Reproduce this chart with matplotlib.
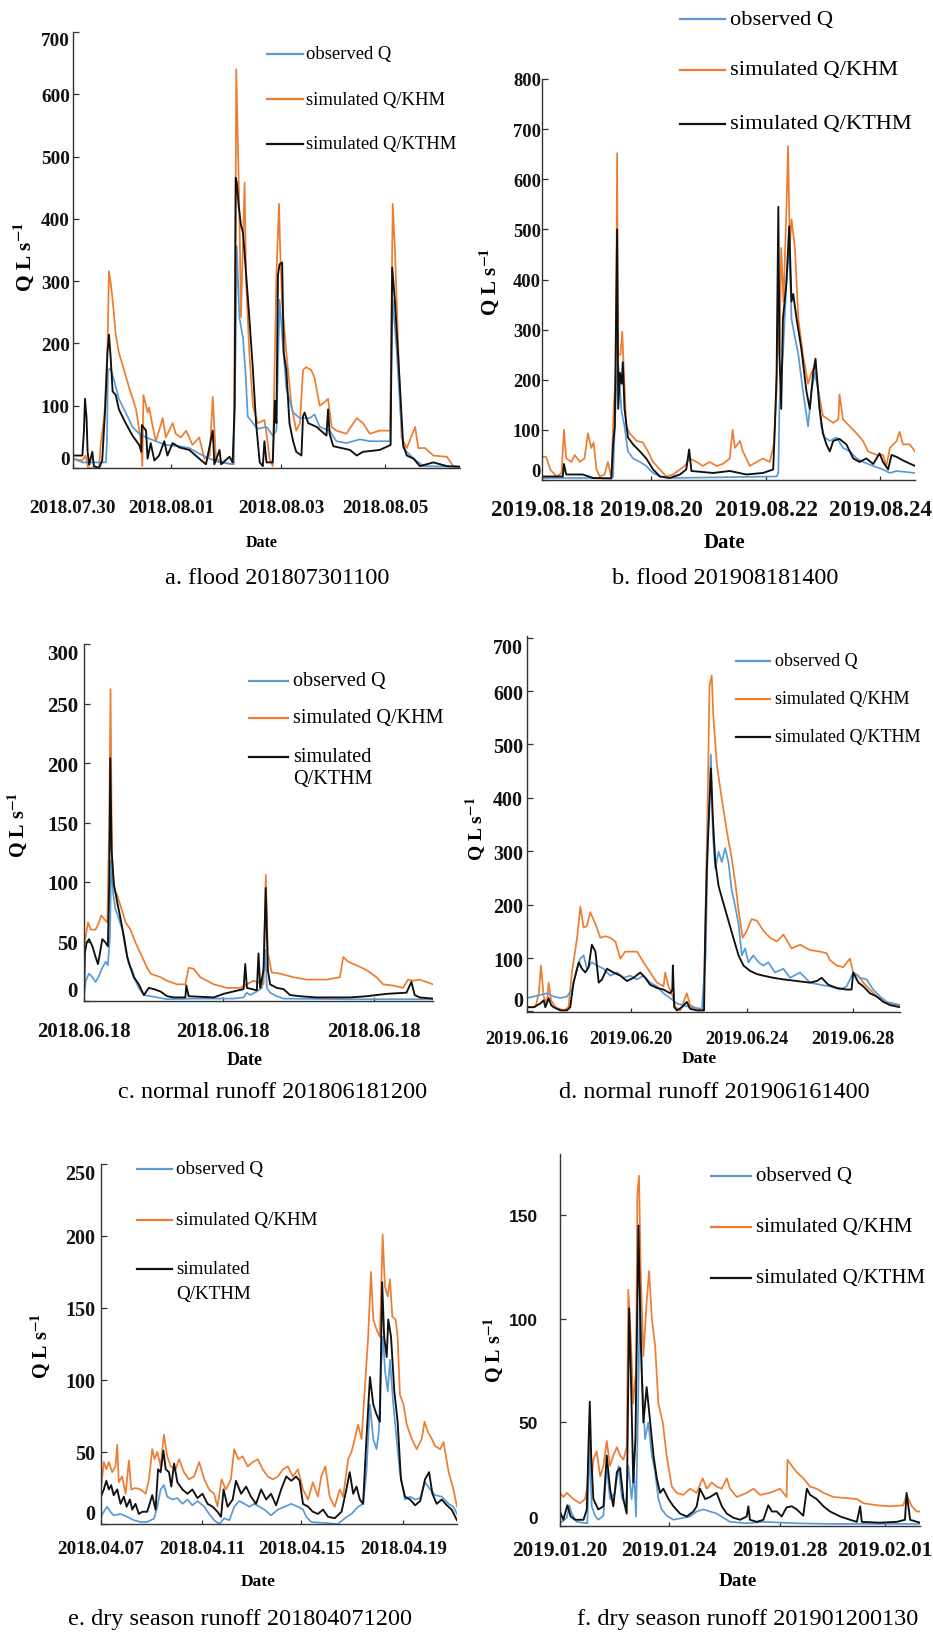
import matplotlib
matplotlib.use("Agg")
import matplotlib.pyplot as plt
from matplotlib.lines import Line2D

plt.rcParams['font.family'] = ['Liberation Serif', 'DejaVu Serif']
plt.rcParams['mathtext.fontset'] = 'stix'

# ---------------- data (day / hour offsets, discharge L/s) ----------------
SERIES_NAMES = ['observed Q', 'simulated Q/KHM', 'simulated Q/KTHM']

A_DATES = ['2018.07.30', '2018.08.01', '2018.08.03', '2018.08.05']
A_OBS = [(0,15),(0.18,9),(0.63,9),(0.65,40),(0.67,157),(0.72,160),(0.79,140),(0.88,111),(1.01,89),(1.14,66),(1.27,55),(1.40,49),(1.59,43),(1.78,37),(2.04,35),(2.23,32),(2.42,23),(2.62,15),(2.81,9),(3.08,6),(3.12,200),(3.14,356),(3.19,242),(3.26,208),(3.31,150),(3.35,83),(3.45,72),(3.54,63),(3.71,66),(3.83,52),(3.90,60),(3.94,200),(3.96,270),(4.01,214),(4.09,128),(4.22,89),(4.35,80),(4.54,80),(4.63,86),(4.73,66),(4.92,60),(5.05,43),(5.24,40),(5.37,43),(5.50,46),(5.69,43),(6.08,43),(6.10,150),(6.13,270),(6.21,185),(6.27,100),(6.33,32),(6.53,15),(6.72,3),(7.42,2)]
A_KHM = [(0,15),(0.18,12),(0.24,20),(0.29,0),(0.50,0),(0.53,37),(0.60,83),(0.66,185),(0.69,316),(0.72,299),(0.76,270),(0.82,214),(0.88,185),(0.98,157),(1.08,128),(1.21,94),(1.30,43),(1.33,3),(1.35,117),(1.40,100),(1.43,89),(1.46,97),(1.53,66),(1.59,43),(1.72,80),(1.78,49),(1.91,72),(1.97,55),(2.07,49),(2.17,60),(2.29,37),(2.42,49),(2.52,15),(2.62,20),(2.68,114),(2.74,15),(2.87,9),(3.08,6),(3.12,469),(3.13,640),(3.16,526),(3.19,412),(3.22,242),(3.29,458),(3.32,299),(3.38,185),(3.45,100),(3.54,72),(3.67,77),(3.71,55),(3.77,15),(3.83,3),(3.90,310),(3.95,424),(3.97,356),(4.01,264),(4.09,185),(4.19,100),(4.28,60),(4.35,72),(4.41,157),(4.47,162),(4.57,157),(4.63,145),(4.73,100),(4.83,106),(4.89,111),(4.96,66),(5.05,60),(5.24,55),(5.44,80),(5.56,72),(5.69,55),(5.88,60),(6.08,60),(6.13,424),(6.17,356),(6.24,185),(6.30,49),(6.40,32),(6.56,66),(6.62,32),(6.75,32),(6.91,20),(7.17,18),(7.29,3),(7.42,2)]
A_KTHM = [(0,20),(0.18,20),(0.21,60),(0.23,111),(0.26,80),(0.28,26),(0.31,5),(0.37,26),(0.40,3),(0.50,0),(0.56,12),(0.62,100),(0.66,185),(0.69,214),(0.72,180),(0.76,123),(0.82,117),(0.88,94),(1.01,72),(1.14,52),(1.27,37),(1.31,26),(1.32,69),(1.40,60),(1.43,15),(1.49,40),(1.56,12),(1.65,20),(1.75,43),(1.81,20),(1.91,40),(2.04,33),(2.23,29),(2.42,15),(2.55,6),(2.68,60),(2.71,6),(2.81,29),(2.84,6),(3.00,18),(3.06,9),(3.10,100),(3.12,466),(3.14,458),(3.18,418),(3.22,390),(3.26,378),(3.32,310),(3.38,242),(3.45,157),(3.51,72),(3.58,9),(3.64,3),(3.67,43),(3.71,9),(3.83,9),(3.87,108),(3.90,72),(3.93,310),(3.96,327),(4.01,330),(4.04,185),(4.09,157),(4.15,72),(4.22,43),(4.28,26),(4.38,20),(4.41,83),(4.44,89),(4.51,72),(4.67,66),(4.86,52),(4.89,94),(4.92,55),(4.99,35),(5.31,29),(5.44,20),(5.56,26),(5.88,29),(6.09,37),(6.12,322),(6.17,270),(6.21,214),(6.27,128),(6.33,37),(6.40,20),(6.53,15),(6.65,3),(6.91,9),(7.17,3),(7.42,2)]

B_DATES = ['2019.08.18', '2019.08.20', '2019.08.22', '2019.08.24']
B_OBS = [(0.09,4),(1.30,4),(1.33,7),(1.36,107),(1.39,200),(1.42,230),(1.45,180),(1.48,135),(1.53,107),(1.59,57),(1.68,43),(1.80,36),(1.91,28),(2.03,14),(2.15,7),(2.32,4),(4.19,7),(4.22,14),(4.24,150),(4.30,250),(4.36,392),(4.41,470),(4.45,321),(4.51,285),(4.57,250),(4.65,178),(4.74,107),(4.80,178),(4.86,214),(4.92,178),(4.97,107),(5.03,85),(5.12,78),(5.24,85),(5.35,64),(5.47,57),(5.59,43),(5.70,36),(5.88,28),(6.05,21),(6.17,14),(6.29,18),(6.61,14)]
B_KHM = [(0.09,46),(0.16,46),(0.23,21),(0.34,7),(0.43,14),(0.47,100),(0.51,43),(0.60,36),(0.66,50),(0.75,36),(0.83,43),(0.89,93),(0.95,64),(0.99,75),(1.04,21),(1.10,7),(1.18,11),(1.24,36),(1.30,4),(1.34,142),(1.38,214),(1.40,652),(1.42,250),(1.46,250),(1.49,296),(1.52,214),(1.56,107),(1.62,93),(1.74,78),(1.85,75),(1.94,57),(2.03,36),(2.15,21),(2.26,7),(2.38,11),(2.50,21),(2.58,28),(2.67,43),(2.79,36),(2.90,28),(3.02,36),(3.14,28),(3.25,32),(3.37,43),(3.42,100),(3.46,64),(3.55,78),(3.60,57),(3.66,43),(3.72,28),(3.84,36),(3.95,43),(4.07,36),(4.14,71),(4.19,178),(4.22,392),(4.24,250),(4.27,463),(4.31,356),(4.36,535),(4.39,666),(4.42,463),(4.45,520),(4.51,463),(4.57,321),(4.65,250),(4.74,192),(4.80,214),(4.86,228),(4.92,178),(5.00,128),(5.09,121),(5.18,114),(5.27,121),(5.29,171),(5.35,121),(5.47,107),(5.59,93),(5.70,78),(5.79,57),(5.94,50),(6.05,50),(6.11,28),(6.17,64),(6.29,78),(6.34,96),(6.40,71),(6.52,71),(6.61,57)]
B_KTHM = [(0.09,7),(0.45,7),(0.47,32),(0.51,11),(0.80,11),(0.98,4),(1.30,3),(1.33,71),(1.36,107),(1.40,500),(1.42,142),(1.45,214),(1.48,192),(1.50,235),(1.53,142),(1.59,85),(1.68,71),(1.80,57),(1.91,43),(2.03,21),(2.15,7),(2.32,4),(2.50,11),(2.61,21),(2.66,61),(2.70,18),(3.08,14),(3.37,18),(3.66,11),(3.95,14),(4.13,21),(4.16,107),(4.19,214),(4.22,545),(4.24,250),(4.27,142),(4.30,321),(4.36,392),(4.41,506),(4.45,356),(4.48,371),(4.54,321),(4.62,264),(4.71,178),(4.77,142),(4.83,214),(4.87,242),(4.94,142),(5.00,93),(5.06,71),(5.12,57),(5.18,78),(5.29,82),(5.41,71),(5.53,43),(5.64,36),(5.76,43),(5.88,32),(5.99,53),(6.05,36),(6.14,21),(6.20,50),(6.29,46),(6.40,39),(6.61,28)]

C_DATES = ['2018.06.18', '2018.06.18', '2018.06.18']
C_OBS = [(0,3),(0.12,17),(0.36,23),(0.60,20),(0.83,16),(1.07,21),(1.31,28),(1.55,33),(1.71,30),(1.86,54),(1.95,118),(2.10,89),(2.26,77),(2.50,69),(2.74,60),(2.98,43),(3.21,31),(3.45,26),(3.69,17),(3.93,11),(4.29,5),(5.24,3),(5.95,1.5),(8.0,2),(10.71,2),(11.43,3),(11.67,7),(11.90,5),(12.38,8),(12.74,11),(12.98,43),(13.10,11),(13.33,7),(13.81,4),(14.29,2),(19.0,1.5),(25.0,1.5)]
C_KHM = [(0,46),(0.29,66),(0.48,60),(0.83,60),(1.07,66),(1.24,72),(1.43,69),(1.67,66),(1.81,150),(1.90,262),(2.00,121),(2.14,95),(2.38,89),(2.62,80),(2.98,66),(3.33,60),(3.69,49),(4.05,40),(4.52,28),(4.76,23),(5.48,20),(5.95,17),(6.67,14),(7.26,14),(7.50,28),(7.86,27),(8.33,20),(9.29,14),(10.24,11),(11.19,11),(12.14,17),(12.86,14),(13.02,106),(13.17,40),(13.45,24),(14.05,23),(15.0,20),(15.95,18),(17.38,18),(18.33,20),(18.57,37),(18.93,33),(19.52,30),(20.24,26),(20.95,20),(21.43,14),(22.14,13),(22.86,11),(23.21,18),(23.57,17),(24.05,18),(25.0,14)]
C_KTHM = [(0,5),(0.07,41),(0.19,49),(0.36,52),(0.60,46),(0.83,37),(1.00,31),(1.14,40),(1.31,52),(1.55,49),(1.71,46),(1.81,100),(1.88,204),(1.98,126),(2.14,98),(2.38,83),(2.62,69),(2.86,54),(3.10,37),(3.33,28),(3.57,20),(3.93,14),(4.29,5),(4.64,11),(5.00,10),(5.48,8),(5.95,4),(6.43,3),(7.26,3),(7.33,13),(7.50,4),(9.29,3),(10.0,6),(10.71,8),(11.43,10),(11.55,31),(11.67,11),(12.38,9),(12.50,40),(12.62,11),(12.86,26),(13.02,95),(13.17,26),(13.33,14),(13.81,11),(14.29,10),(14.76,5),(15.48,4),(16.67,3),(19.05,3),(20.24,4),(21.67,6),(23.10,7),(23.45,16),(23.69,5),(24.05,3),(25.0,2)]

D_DATES = ['2019.06.16', '2019.06.20', '2019.06.24', '2019.06.28']
D_OBS = [(0.12,25),(0.36,28),(0.61,31),(0.85,34),(1.09,28),(1.34,25),(1.58,28),(1.76,41),(1.95,80),(2.07,99),(2.19,105),(2.31,80),(2.49,92),(2.68,86),(2.92,80),(3.16,67),(3.41,73),(3.65,63),(3.89,67),(4.14,60),(4.38,67),(4.62,54),(4.87,47),(5.11,34),(5.35,25),(5.60,15),(6.08,8),(6.51,5),(6.65,105),(6.73,332),(6.84,481),(6.91,332),(7.00,267),(7.12,299),(7.24,280),(7.36,306),(7.48,280),(7.60,228),(7.73,196),(7.85,164),(7.97,105),(8.09,118),(8.21,92),(8.39,105),(8.58,92),(8.76,86),(8.94,92),(9.18,73),(9.49,80),(9.73,63),(10.10,73),(10.46,54),(10.83,50),(11.19,47),(11.56,41),(11.80,47),(12.04,73),(12.29,63),(12.53,60),(12.77,41),(13.02,28),(13.26,18),(13.50,15),(13.75,12)]
D_KHM = [(0.12,8),(0.43,8),(0.55,34),(0.63,86),(0.73,28),(0.85,15),(0.91,54),(1.00,21),(1.16,8),(1.46,2),(1.64,8),(1.76,73),(1.95,138),(2.07,196),(2.19,157),(2.31,160),(2.43,186),(2.62,164),(2.80,138),(2.98,141),(3.16,138),(3.35,131),(3.53,99),(3.71,112),(4.14,112),(4.38,92),(4.62,73),(4.87,54),(5.11,47),(5.17,73),(5.29,47),(5.41,34),(5.54,8),(5.72,2),(5.96,34),(6.08,12),(6.33,5),(6.57,2),(6.65,202),(6.73,422),(6.79,610),(6.87,629),(6.93,552),(7.06,461),(7.24,397),(7.42,338),(7.60,287),(7.73,241),(7.85,190),(8.00,138),(8.15,151),(8.33,173),(8.52,170),(8.76,151),(9.00,138),(9.25,131),(9.49,144),(9.79,118),(10.10,125),(10.46,115),(10.83,112),(11.07,109),(11.19,96),(11.44,86),(11.68,83),(11.92,99),(12.04,73),(12.23,67),(12.41,54),(12.65,41),(12.90,28),(13.14,18),(13.38,15),(13.75,12)]
D_KTHM = [(0.12,8),(0.36,8),(0.61,15),(0.73,21),(0.79,8),(0.91,25),(1.00,12),(1.09,8),(1.34,2),(1.58,2),(1.70,8),(1.82,54),(2.01,92),(2.13,80),(2.25,73),(2.37,83),(2.49,125),(2.62,112),(2.74,54),(2.86,60),(3.04,80),(3.28,73),(3.53,67),(3.77,57),(4.01,63),(4.26,73),(4.44,63),(4.62,50),(4.87,44),(5.11,41),(5.35,34),(5.43,40),(5.45,86),(5.50,8),(5.60,2),(5.78,8),(5.96,18),(6.08,5),(6.33,2),(6.59,2),(6.63,138),(6.69,267),(6.84,455),(6.91,364),(7.00,280),(7.12,235),(7.30,202),(7.48,170),(7.66,138),(7.85,105),(8.03,86),(8.27,76),(8.52,70),(8.76,67),(9.12,63),(9.49,60),(9.98,57),(10.46,54),(10.71,57),(10.89,63),(11.13,50),(11.44,44),(11.80,41),(11.98,41),(12.04,73),(12.23,54),(12.41,47),(12.65,34),(12.90,28),(13.14,18),(13.38,12),(13.75,8)]

E_DATES = ['2018.04.07', '2018.04.11', '2018.04.15', '2018.04.19']
E_OBS = [(0.05,5),(0.16,8.5),(0.29,12),(0.42,8.5),(0.55,6),(0.82,7),(1.08,5),(1.35,2.6),(1.61,1.4),(1.87,1.4),(2.14,3.8),(2.27,12),(2.40,24),(2.53,27),(2.66,19),(2.86,17),(3.06,18),(3.26,14),(3.46,17),(3.65,13),(3.85,16),(4.12,12),(4.31,7),(4.51,2.6),(4.71,0),(4.91,4),(5.11,2.6),(5.30,12),(5.50,16),(5.70,14),(5.90,12),(6.09,14),(6.29,12),(6.49,10),(6.75,6),(7.02,10),(7.28,12),(7.55,14),(7.81,12),(8.01,10),(8.14,5),(8.34,1.4),(8.87,0.7),(9.39,0),(9.66,4),(9.92,7),(10.18,12),(10.38,14),(10.51,36),(10.65,83),(10.78,59),(10.91,52),(11.00,64),(11.08,107),(11.17,130),(11.24,107),(11.35,92),(11.44,114),(11.57,83),(11.70,59),(11.83,36),(12.03,17),(12.23,19),(12.43,17),(12.63,18),(12.82,29),(13.02,24),(13.22,20),(13.48,19),(13.75,14),(13.94,12),(14.08,7)]
E_KHM = [(0.05,24),(0.16,43),(0.26,38),(0.36,43),(0.49,36),(0.62,40),(0.69,55),(0.75,29),(0.88,33),(1.02,21),(1.15,44),(1.24,24),(1.41,25),(1.61,24),(1.81,21),(1.94,31),(2.07,52),(2.16,45),(2.27,50),(2.40,40),(2.53,62),(2.66,47),(2.80,40),(2.99,38),(3.13,45),(3.32,36),(3.52,31),(3.72,33),(3.92,43),(4.12,31),(4.31,24),(4.51,21),(4.64,12),(4.80,31),(4.97,24),(5.17,31),(5.30,52),(5.46,45),(5.63,47),(5.83,40),(6.03,43),(6.23,45),(6.42,38),(6.62,33),(6.82,31),(7.02,33),(7.22,38),(7.41,40),(7.61,33),(7.81,38),(8.01,24),(8.21,17),(8.40,29),(8.60,19),(8.73,33),(8.89,40),(9.06,19),(9.26,12),(9.46,24),(9.59,19),(9.79,45),(9.92,50),(10.05,59),(10.18,69),(10.32,59),(10.45,95),(10.58,130),(10.69,175),(10.78,142),(10.91,135),(11.04,130),(11.15,201),(11.24,165),(11.35,158),(11.44,170),(11.53,144),(11.66,142),(11.74,130),(11.83,90),(11.97,83),(12.10,69),(12.30,59),(12.49,52),(12.69,59),(12.80,71),(12.93,64),(13.09,59),(13.22,54),(13.42,52),(13.55,57),(13.75,36),(13.94,24),(14.08,12)]
E_KTHM = [(0.05,19),(0.16,24),(0.26,30),(0.36,24),(0.45,27),(0.55,20),(0.69,24),(0.82,14),(0.95,19),(1.06,12),(1.19,17),(1.28,10),(1.41,14),(1.54,7),(1.68,8.5),(1.87,8.5),(2.07,20),(2.20,10),(2.30,38),(2.40,36),(2.51,51),(2.60,38),(2.73,36),(2.82,26),(2.93,42),(3.06,29),(3.26,24),(3.46,21),(3.65,24),(3.85,18),(4.05,21),(4.25,14),(4.45,12),(4.64,8.5),(4.78,5),(4.88,24),(5.04,12),(5.24,17),(5.37,30),(5.57,21),(5.77,26),(5.96,19),(6.16,14),(6.36,24),(6.56,17),(6.75,21),(6.95,13),(7.15,24),(7.35,33),(7.55,30),(7.74,33),(7.88,30),(8.01,14),(8.21,12),(8.40,8.5),(8.60,7),(8.80,10),(9.00,5),(9.26,4),(9.53,8.5),(9.72,24),(9.85,36),(9.99,21),(10.12,26),(10.25,17),(10.38,14),(10.51,59),(10.65,102),(10.78,83),(10.91,76),(11.04,71),(11.13,168),(11.21,130),(11.31,116),(11.37,142),(11.48,130),(11.61,92),(11.74,71),(11.87,31),(12.03,19),(12.23,17),(12.43,13),(12.63,16),(12.82,31),(12.98,36),(13.11,21),(13.28,14),(13.48,17),(13.68,13),(13.87,10),(14.08,2.6)]

F_DATES = ['2019.01.20', '2019.01.24', '2019.01.28', '2019.02.01']
F_OBS = [(0.12,1.3),(0.37,4),(0.46,10),(0.55,6),(0.73,2),(1.12,1.3),(1.20,39),(1.28,9.5),(1.40,5),(1.52,3),(1.71,5),(1.83,29),(1.95,13),(2.13,16),(2.26,29),(2.38,14),(2.52,9.5),(2.62,29),(2.74,13),(2.83,26),(2.90,4.6),(2.98,60),(3.05,116),(3.11,75),(3.23,42),(3.35,50),(3.48,34),(3.60,26),(3.72,13),(3.84,8),(4.02,5),(4.27,3),(4.88,4.6),(5.12,7),(5.37,8),(5.85,6),(6.10,4),(6.34,2),(6.95,1.3),(7.56,2),(8.78,1.3),(10.0,1),(13.29,1)]
F_KHM = [(0.12,16),(0.24,14),(0.37,16),(0.61,13),(0.85,11),(1.04,13),(1.12,19),(1.20,41),(1.28,23),(1.34,32),(1.46,36),(1.59,24),(1.71,29),(1.83,41),(1.95,29),(2.07,34),(2.20,38),(2.32,34),(2.44,32),(2.56,38),(2.62,114),(2.71,91),(2.80,59),(2.90,75),(2.95,160),(3.01,169),(3.07,124),(3.17,82),(3.29,108),(3.38,123),(3.48,100),(3.60,87),(3.72,59),(3.88,50),(4.02,34),(4.21,19),(4.39,16),(4.63,15),(4.88,18),(5.12,16),(5.34,23),(5.49,18),(5.67,21),(5.85,19),(6.04,18),(6.22,23),(6.34,18),(6.59,14),(6.95,16),(7.20,18),(7.44,15),(7.80,16),(8.17,18),(8.41,14),(8.44,32),(8.60,29),(8.78,26),(9.02,23),(9.27,19),(9.51,18),(9.76,16),(10.12,14),(10.49,13.6),(10.98,13),(11.22,11),(11.71,10),(12.20,9.5),(12.68,10),(12.80,15),(12.99,9.5),(13.17,7),(13.29,7)]
F_KTHM = [(0.12,7),(0.24,3),(0.39,10),(0.51,4.6),(0.67,3),(0.98,3),(1.10,8),(1.17,42),(1.21,60),(1.26,34),(1.34,13),(1.52,8),(1.71,9.5),(1.83,34),(1.95,18),(2.07,9.5),(2.20,26),(2.32,28),(2.44,13),(2.56,6),(2.65,105),(2.71,75),(2.80,21),(2.88,42),(2.99,145),(3.07,91),(3.17,50),(3.29,67),(3.39,54),(3.54,34),(3.66,23),(3.78,16),(3.90,18),(4.09,13),(4.27,9.5),(4.51,6),(4.76,4.6),(5.00,7),(5.12,9.5),(5.24,18),(5.43,13),(5.61,14),(5.85,16),(6.04,9.5),(6.22,6),(6.46,4),(6.71,3),(6.95,4.6),(7.01,9.5),(7.07,3),(7.32,2),(7.56,3),(7.74,10),(7.87,7),(8.05,7),(8.23,4.6),(8.41,9),(8.60,9.5),(8.78,8),(9.02,5),(9.15,18),(9.27,15),(9.51,13),(9.76,9.5),(10.00,7),(10.37,4.6),(10.73,3),(10.98,2),(11.10,9.5),(11.16,2),(11.83,1.6),(12.44,2),(12.74,3),(12.80,16),(12.93,3),(13.29,1.6)]

TITLES = ['a. flood 201807301100', 'b. flood 201908181400',
          'c. normal runoff 201806181200', 'd. normal runoff 201906161400',
          'e. dry season runoff 201804071200', 'f. dry season runoff 201901200130']

# ---------------- layout (pixels in a 933 x 1633 canvas) ----------------
W, H = 933, 1633
BLUE, ORANGE, BLACK = '#5B9BD5', '#ED7D31', '#111111'

LAYOUT = [
    dict(rect=(73, 33, 460, 469), ylim=(0, 700), ystep=100, ytop=True, xlim=(0, 7.42),
         xt=[0, 1.88, 3.99, 5.99], xfs=13.8, yfs=13.9, xpad=22, ypad=2.2,
         date=(262, 543, 11.5), ylab=(23, 257, 15.5), title=(277, 579),
         leg=(267, 303, 306, [55, 100, 145], 13.4, False)),
    dict(rect=(542, 80, 915, 481), ylim=(0, 800), ystep=100, ytop=False, xlim=(0.087, 6.61),
         xt=[0.087, 2.0, 4.01, 6.0], xfs=16.5, yfs=13.3, xpad=13.5, ypad=0.8,
         date=(724, 543, 15), ylab=(489, 282, 15), title=(725, 579),
         leg=(680, 725, 730, [20, 71, 125], 16.2, False)),
    dict(rect=(84, 645, 433, 1002), ylim=(0, 300), ystep=50, ytop=True, xlim=(0, 25),
         xt=[0, 9.93, 20.8], xfs=15, yfs=15, xpad=14.5, ypad=4.3,
         date=(245, 1061, 13), ylab=(17, 825, 14.5), title=(273, 1092),
         leg=(249, 288, 293, [682, 719, 758, 780], 14.5, True)),
    dict(rect=(527, 637, 900, 1013), ylim=(-1, 703), ystep=100, ytop=True, xlim=(0.12, 13.75),
         xt=[0.12, 3.93, 8.15, 12.02], xfs=13.3, yfs=14.4, xpad=13, ypad=2.9,
         date=(699, 1059, 12.6), ylab=(476, 829, 14), title=(714, 1092),
         leg=(736, 770, 775, [662, 700, 738], 13, False)),
    dict(rect=(101, 1165, 457, 1525), ylim=(0, 250), ystep=50, ytop=True, xlim=(0.05, 14.08),
         xt=[0.05, 4.05, 7.95, 11.97], xfs=13.9, yfs=14.4, xpad=11.5, ypad=4.3,
         date=(258, 1582, 12.5), ylab=(40, 1346, 14.5), title=(240, 1620),
         leg=(137, 172, 176, [1170, 1221, 1270, 1294], 13.7, True)),
    dict(rect=(560, 1155, 920, 1527), ylim=(0, 179.5), ystep=50, ytop=False, xlim=(0.12, 13.29),
         xt=[0.12, 4.11, 8.17, 12.01], xfs=15.3, yfs=12.5, xpad=10, ypad=16,
         date=(738, 1582, 13.8), ylab=(493, 1350, 14.5), title=(748, 1620),
         leg=(711, 751, 756, [1177, 1228, 1279], 15, False)),
]

PANEL_DATA = [
    (A_OBS, A_KHM, A_KTHM, A_DATES), (B_OBS, B_KHM, B_KTHM, B_DATES),
    (C_OBS, C_KHM, C_KTHM, C_DATES), (D_OBS, D_KHM, D_KTHM, D_DATES),
    (E_OBS, E_KHM, E_KTHM, E_DATES), (F_OBS, F_KHM, F_KTHM, F_DATES),
]

fig = plt.figure(figsize=(W / 100, H / 100), dpi=100)
fig.patch.set_facecolor('white')


def fxy(x, y):
    return x / W, 1 - y / H


for i, (lay, (obs, khm, kthm, dates)) in enumerate(zip(LAYOUT, PANEL_DATA)):
    x0, y0, x1, y1 = lay['rect']
    ax = fig.add_axes([x0 / W, 1 - y1 / H, (x1 - x0) / W, (y1 - y0) / H])
    ax.patch.set_alpha(0)
    for data, col, lw in ((khm, ORANGE, 1.25), (obs, BLUE, 1.25), (kthm, BLACK, 1.35)):
        xs = [p[0] for p in data]
        ys = [p[1] for p in data]
        ax.plot(xs, ys, color=col, lw=lw, clip_on=True)
    ax.set_xlim(*lay['xlim'])
    ax.set_ylim(*lay['ylim'])
    for s in ('top', 'right'):
        ax.spines[s].set_visible(False)
    for s in ('left', 'bottom'):
        ax.spines[s].set_color('#333333')
        ax.spines[s].set_linewidth(1.0)
    ymax = 700 if i in (0, 3) else int(lay['ylim'][1] // lay['ystep'] * lay['ystep'])
    yt = list(range(0, ymax + 1, lay['ystep']))
    ax.set_yticks(yt)
    if i == 5:
        ax.set_yticklabels([str(v) for v in yt], fontsize=lay['yfs'], fontweight='bold',
                           family=['Liberation Sans', 'DejaVu Sans'])
    else:
        ax.set_yticklabels([str(v) for v in yt], fontsize=lay['yfs'], fontweight='bold')
    ax.set_xticks(lay['xt'])
    ax.set_xticklabels(dates, fontsize=lay['xfs'], fontweight='bold')
    ax.tick_params(axis='y', direction='in', length=4, width=0.9, pad=lay['ypad'], colors='#333333',
                   labelcolor='#111111')
    ax.tick_params(axis='x', direction='in', length=3, width=0.9, pad=lay['xpad'], colors='#333333',
                   labelcolor='#111111')
    ylabels = ax.get_yticklabels()
    ylabels[0].set_verticalalignment('bottom')
    if lay['ytop']:
        ylabels[-1].set_verticalalignment('top')

    # axis titles and panel caption
    dx, dy, dfs = lay['date']
    fig.text(*fxy(dx, dy), 'Date', ha='center', va='center', fontsize=dfs, fontweight='bold')
    lx, ly, lfs = lay['ylab']
    fig.text(*fxy(lx, ly), r'Q L s$^{\mathbf{-1}}$', ha='center', va='center', rotation=90,
             fontsize=lfs, fontweight='bold')
    tx, ty = lay['title']
    fig.text(*fxy(tx, ty), TITLES[i], ha='center', va='center', fontsize=17.5)

    # legend
    lx0, lx1, ltx, lys, lfs2, split = lay['leg']
    for name, col, yy in zip(SERIES_NAMES, (BLUE, ORANGE, BLACK), lys[:3]):
        fa, fb = fxy(lx0, yy), fxy(lx1, yy)
        fig.add_artist(Line2D([fa[0], fb[0]], [fa[1], fb[1]], transform=fig.transFigure,
                              color=col, lw=1.6))
        if split and name == SERIES_NAMES[2]:
            fig.text(*fxy(ltx, yy), 'simulated', ha='left', va='center', fontsize=lfs2)
            fig.text(*fxy(ltx, lys[3]), 'Q/KTHM', ha='left', va='center', fontsize=lfs2)
        else:
            fig.text(*fxy(ltx, yy), name, ha='left', va='center', fontsize=lfs2)

fig.savefig('out.png', dpi=100, facecolor='white')
